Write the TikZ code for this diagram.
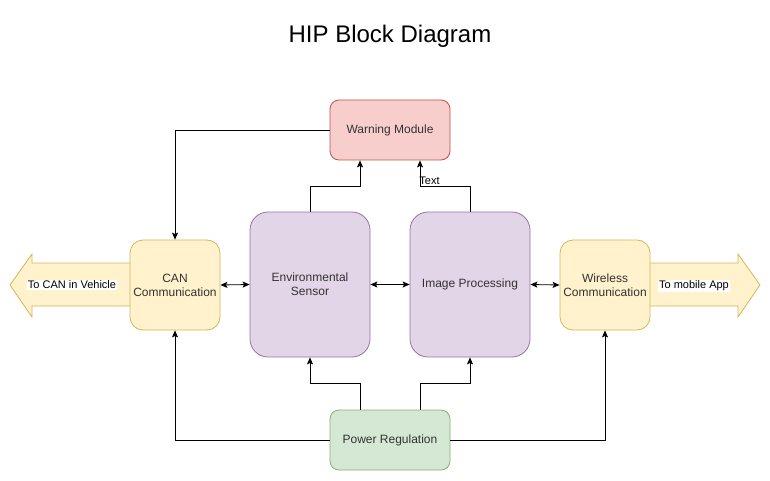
\documentclass[tikz,border=0pt]{standalone}
\usepackage{fontspec}
\setmainfont{Liberation Sans}
\usetikzlibrary{arrows.meta}
\definecolor{warnfill}{HTML}{F8CECC}
\definecolor{warndraw}{HTML}{B85450}
\definecolor{commfill}{HTML}{FFF2CC}
\definecolor{commdraw}{HTML}{D6B656}
\definecolor{procfill}{HTML}{E1D5E7}
\definecolor{procdraw}{HTML}{9673A6}
\definecolor{pwrfill}{HTML}{D5E8D4}
\definecolor{pwrdraw}{HTML}{82B366}
\begin{document}
\begin{tikzpicture}[x=1pt,y=-1pt,>={Stealth[length=7pt,width=6pt,inset=1.5pt]}]
        \tikzstyle{block}=[draw,line width=0.8pt,align=center,inner sep=0pt,text=black!80,font=\fontsize{12}{14}\selectfont]
        \tikzstyle{warning}=[block,fill=warnfill,draw=warndraw,rounded corners=9pt,minimum width=120pt,minimum height=60pt]
        \tikzstyle{comm}=[block,fill=commfill,draw=commdraw,rounded corners=13pt,minimum width=90pt,minimum height=90pt]
        \tikzstyle{proc}=[block,fill=procfill,draw=procdraw,rounded corners=18pt,minimum width=120pt,minimum height=145pt]
        \tikzstyle{power}=[block,fill=pwrfill,draw=pwrdraw,rounded corners=9pt,minimum width=120pt,minimum height=60pt]
        \tikzstyle{bigarrow}=[fill=commfill,draw=commdraw,line width=0.8pt]
        \tikzstyle{tag}=[fill=white,inner sep=1pt,text=black,font=\fontsize{11}{13}\selectfont]
        \tikzstyle{edge}=[draw,line width=0.8pt]
        \useasboundingbox (0,0) rectangle (770,481);

        \node [font=\fontsize{24}{28}\selectfont] (title) at (390,36) {HIP Block Diagram};

        \path[bigarrow] (130,263) -- (32,263) -- (32,254) -- (10,285) -- (32,317) -- (32,306) -- (130,306);
        \path[bigarrow] (650,263) -- (738,263) -- (738,254) -- (760,285) -- (738,317) -- (738,306) -- (650,306);

        \node [warning] (warn) at (390,130) {Warning Module};
        \node [comm] (can) at (175,285) {CAN\\Communication};
        \node [proc] (env) at (310,284.5) {Environmental\\Sensor};
        \node [proc] (img) at (470,284.5) {Image Processing};
        \node [comm] (wls) at (605,285) {Wireless\\Communication};
        \node [power] (pwr) at (390,440) {Power Regulation};

        \node [tag] (tocan) at (72,285) {To CAN in Vehicle};
        \node [tag] (toapp) at (694,286) {To mobile App};

        \path[edge,->] (warn.west) -| (can.north);
        \path[edge,->] (env.north) -- ++(0,-25) -| ([xshift=-30pt]warn.south);
        \path[edge,->] (img.north) -- ++(0,-25) -| ([xshift=30pt]warn.south)
                node[pos=0.62,anchor=west,inner sep=0pt,xshift=-1pt,font=\fontsize{11}{13}\selectfont] (txt) {Text};

        \path[edge,<->] (can.east) -- (env.west);
        \path[edge,<->] (env.east) -- (img.west);
        \path[edge,<->] (img.east) -- (wls.west);

        \path[edge,->] (pwr.west) -| (can.south);
        \path[edge,->] (pwr.east) -| (wls.south);
        \path[edge,->] ([xshift=-30pt]pwr.north) -- ++(0,-26) -| (env.south);
        \path[edge,->] ([xshift=30pt]pwr.north) -- ++(0,-26) -| (img.south);
\end{tikzpicture}
\end{document}
